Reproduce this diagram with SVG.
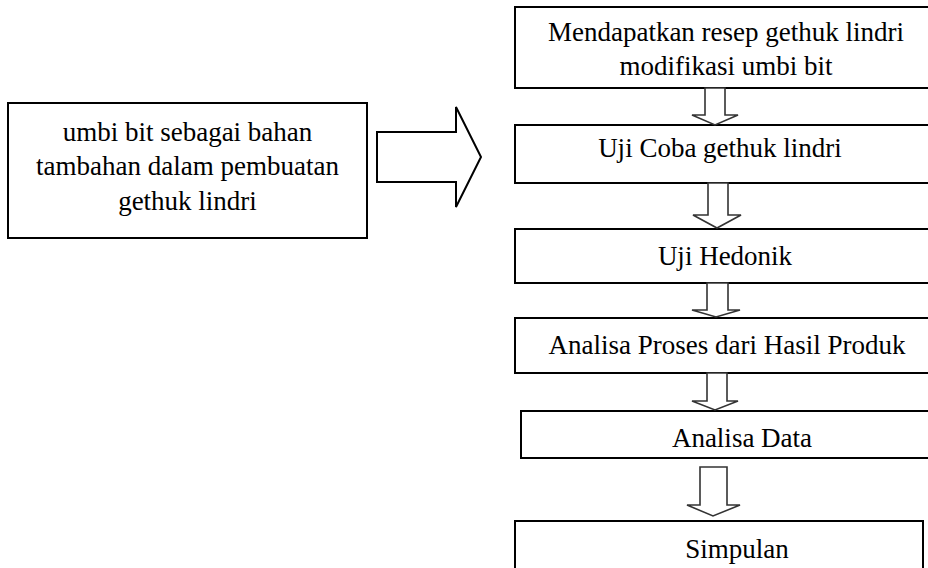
<svg xmlns="http://www.w3.org/2000/svg" width="928" height="568" viewBox="0 0 928 568">
<style>
.box{fill:#fff;stroke:#000;stroke-width:2}
.t{font-family:"Liberation Serif","Times New Roman",serif;font-size:27px;fill:#000;text-anchor:middle}
.arr{fill:#fff;stroke:#333;stroke-width:1.6;stroke-linejoin:miter}
.big{fill:#fff;stroke:#000;stroke-width:2;stroke-linejoin:miter}
</style>
<rect width="928" height="568" fill="#fff"/>
<g id="node-input">
<rect class="box" x="8" y="103" width="359" height="135"/>
<text class="t" x="187.5" y="141">umbi bit sebagai bahan</text>
<text class="t" x="187.5" y="175">tambahan dalam pembuatan</text>
<text class="t" x="187.5" y="210">gethuk lindri</text>
</g>
<g id="node-resep">
<rect class="box" x="515" y="7" width="420" height="81"/>
<text class="t" x="726" y="41">Mendapatkan resep gethuk lindri</text>
<text class="t" x="726" y="75">modifikasi umbi bit</text>
</g>
<g id="node-ujicoba">
<rect class="box" x="515" y="125" width="420" height="58"/>
<text class="t" x="720" y="157">Uji Coba gethuk lindri</text>
</g>
<g id="node-hedonik">
<rect class="box" x="515" y="229" width="420" height="54"/>
<text class="t" x="725" y="265">Uji Hedonik</text>
</g>
<g id="node-analisa-proses">
<rect class="box" x="515" y="318" width="420" height="55"/>
<text class="t" x="727" y="354">Analisa Proses dari Hasil Produk</text>
</g>
<g id="node-analisa-data">
<rect class="box" x="521" y="411" width="414" height="47"/>
<text class="t" x="742" y="447">Analisa Data</text>
</g>
<g id="node-simpulan">
<rect class="box" x="515" y="521" width="408" height="60"/>
<text class="t" x="737" y="558">Simpulan</text>
</g>
<g id="connectors">
<polygon class="big" points="377,132 456,132 456,107 481,157 456,207 456,182 377,182"/>
<polygon class="arr" points="705,88 725,88 725,115 738,115 715,125 692,115 705,115"/>
<polygon class="arr" points="708,183 728,183 728,215 741,215 717,228 693,215 708,215"/>
<polygon class="arr" points="707,283 728,283 728,310 740,310 716,317 692,310 707,310"/>
<polygon class="arr" points="707,373 727,373 727,401 738,401 715,410 692,401 707,401"/>
<polygon class="arr" points="700,467 727,467 727,505 740,505 713,516 687,505 700,505"/>
</g>
</svg>
